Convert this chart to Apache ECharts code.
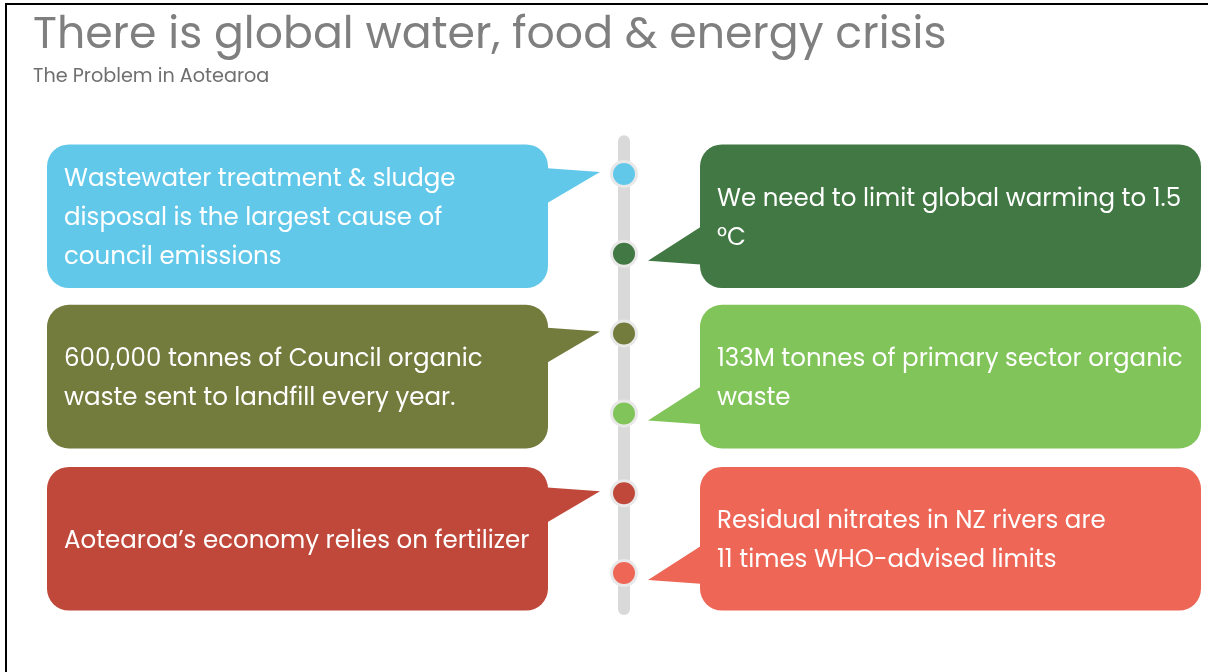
<!DOCTYPE html>
<html>
<head>
<meta charset="utf-8">
<script src="https://cdn.jsdelivr.net/npm/echarts@6/dist/echarts.min.js"></script>
<style>
  html, body { margin: 0; padding: 0; background: #fff; }
  #main { width: 1208px; height: 672px; }
</style>
</head>
<body>
<div id="main"></div>
<script>
  // timeline dots, top to bottom
  var dotIndex = [0, 1, 2, 3, 4, 5];
  var dotColors = ['#62c8ea', '#417843', '#737b3d', '#80c45a', '#c0483a', '#ee6656'];
  // callout boxes: side (-1 left, 1 right), row centre (in dot units), text
  var boxSide = [-1, 1, -1, 1, -1, 1];
  var boxRow = [0.53, 0.53, 2.54, 2.54, 4.57, 4.57];
  var boxText = [
    'Wastewater treatment & sludge\ndisposal is the largest cause of\ncouncil emissions',
    'We need to limit global warming to 1.5\n°C',
    '600,000 tonnes of Council organic\nwaste sent to landfill every year.',
    '133M tonnes of primary sector organic\nwaste',
    'Aotearoa\u2019s economy relies on fertilizer',
    'Residual nitrates in NZ rivers are\n11 times WHO-advised limits'
  ];
  var trackRange = [-0.41, 5.45];

  var font = "Poppins, 'Open Sans', sans-serif";
  var myChart = echarts.init(document.getElementById('main'));

  var boxData = boxSide.map(function (s, i) {
    return [s, boxRow[i], dotIndex[i], i];
  });

  var option = {
    animation: false,
    title: {
      text: 'There is global water, food & energy crisis',
      subtext: 'The Problem in Aotearoa',
      left: 33,
      top: 15,
      padding: 0,
      itemGap: 9,
      textStyle: { fontFamily: font, fontSize: 44.2, fontWeight: 'normal', color: '#7f7f7f' },
      subtextStyle: { fontFamily: font, fontSize: 19.2, color: '#6f6f6f' }
    },
    grid: { left: 47, right: 7, top: 134, bottom: 59 },
    xAxis: { type: 'value', min: -1, max: 1, show: false },
    yAxis: { type: 'value', min: -0.5, max: 5.5, inverse: true, show: false },
    graphic: [
      { type: 'line', shape: { x1: 5, y1: 4, x2: 1208, y2: 4 }, style: { stroke: '#000', lineWidth: 2 } },
      { type: 'line', shape: { x1: 6, y1: 4, x2: 6, y2: 672 }, style: { stroke: '#000', lineWidth: 2 } }
    ],
    series: [
      {
        // grey track
        type: 'line',
        data: trackRange.map(function (v) { return [0, v]; }),
        symbol: 'none',
        lineStyle: { color: '#d9d9d9', width: 12, cap: 'round' },
        z: 1
      },
      {
        type: 'custom',
        data: boxData,
        z: 2,
        renderItem: function (params, api) {
          var s = api.value(0);
          var row = api.value(1);
          var dot = api.value(2);
          var idx = api.value(3);
          var outer = api.coord([s, row]);
          var mid = api.coord([0, row]);
          var dy = api.coord([0, dot])[1];
          var h = api.size([0, 1.8])[1];
          var inner = mid[0] + s * 76;
          var tip = mid[0] + s * 24;
          var x0 = Math.min(outer[0], inner), x1 = Math.max(outer[0], inner);
          var color = dotColors[idx];
          var pts = s < 0
            ? [[inner - 4, dy - 6], [tip, dy - 2], [inner - 4, dy + 31]]
            : [[inner + 4, dy - 29], [tip, dy + 7], [inner + 4, dy + 11]];
          return {
            type: 'group',
            children: [
              {
                type: 'rect',
                shape: { x: x0, y: outer[1] - h / 2, width: x1 - x0, height: h, r: 22 },
                style: { fill: color }
              },
              {
                type: 'polygon',
                shape: { points: pts },
                style: { fill: color }
              },
              {
                type: 'text',
                x: x0 + 17,
                y: outer[1] + 3,
                style: {
                  text: boxText[idx],
                  fill: '#fff',
                  fontFamily: font,
                  fontSize: 24.5,
                  lineHeight: 39,
                  verticalAlign: 'middle',
                  align: 'left'
                }
              }
            ]
          };
        }
      },
      {
        type: 'scatter',
        data: dotIndex.map(function (d) {
          return { value: [0, d], itemStyle: { color: dotColors[d] } };
        }),
        symbolSize: 25,
        itemStyle: { borderColor: '#e8e8e8', borderWidth: 3, opacity: 1 },
        z: 3
      }
    ]
  };
  myChart.setOption(option);
</script>
</body>
</html>
